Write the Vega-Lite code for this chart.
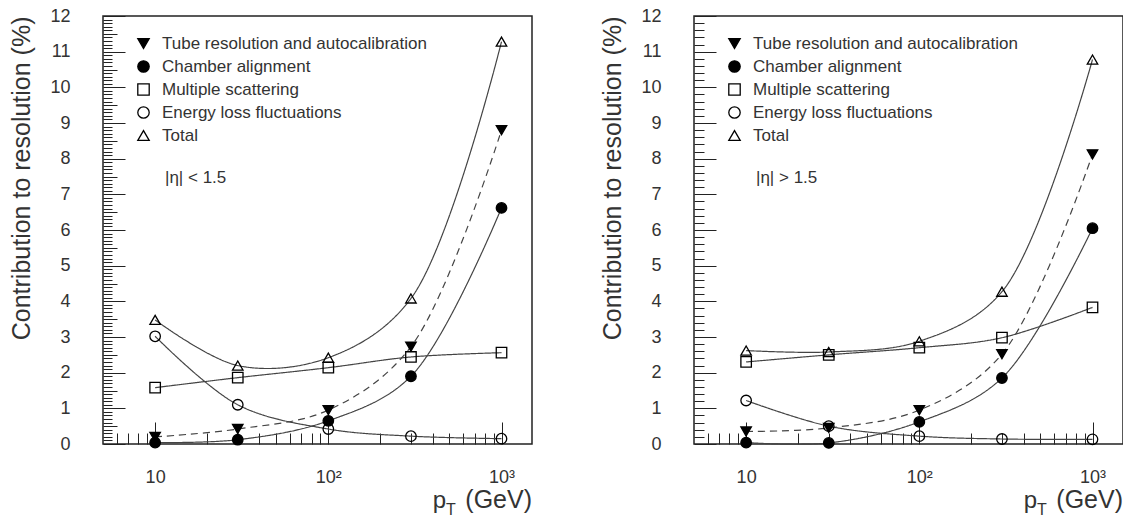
{
  "$schema": "https://vega.github.io/schema/vega-lite/v6.json",
  "background": "white",
  "padding": {"left": 9, "top": 6, "right": 0, "bottom": 0},
  "config": {
    "font": "Liberation Sans",
    "view": {"stroke": "#222", "strokeWidth": 1.5},
    "axis": {"domain": false, "grid": false, "labelColor": "#333", "titleColor": "#333", "tickColor": "#222", "tickWidth": 1, "labelFont": "Liberation Sans", "titleFont": "Liberation Sans", "labelFontSize": 18, "titleFontSize": 25, "titleFontWeight": "normal", "labelOverlap": false},
    "legend": {"labelFont": "Liberation Sans", "labelFontSize": 17, "labelColor": "#333", "labelLimit": 500, "rowPadding": 5, "padding": 0, "labelOffset": 10, "symbolStrokeColor": "black", "symbolStrokeWidth": 1.3, "symbolSize": 130},
    "text": {"font": "Liberation Sans", "color": "#333"}
  },
  "datasets": {
    "central": [
      {"series": "Tube resolution and autocalibration", "pt": 10, "value": 0.2},
      {"series": "Tube resolution and autocalibration", "pt": 30, "value": 0.42},
      {"series": "Tube resolution and autocalibration", "pt": 100, "value": 0.95},
      {"series": "Tube resolution and autocalibration", "pt": 300, "value": 2.73},
      {"series": "Tube resolution and autocalibration", "pt": 1000, "value": 8.8},
      {"series": "Chamber alignment", "pt": 10, "value": 0.04},
      {"series": "Chamber alignment", "pt": 30, "value": 0.12},
      {"series": "Chamber alignment", "pt": 100, "value": 0.65},
      {"series": "Chamber alignment", "pt": 300, "value": 1.9},
      {"series": "Chamber alignment", "pt": 1000, "value": 6.62},
      {"series": "Multiple scattering", "pt": 10, "value": 1.58},
      {"series": "Multiple scattering", "pt": 30, "value": 1.86},
      {"series": "Multiple scattering", "pt": 100, "value": 2.14},
      {"series": "Multiple scattering", "pt": 300, "value": 2.44},
      {"series": "Multiple scattering", "pt": 1000, "value": 2.56},
      {"series": "Energy loss fluctuations", "pt": 10, "value": 3.02},
      {"series": "Energy loss fluctuations", "pt": 30, "value": 1.1},
      {"series": "Energy loss fluctuations", "pt": 100, "value": 0.42},
      {"series": "Energy loss fluctuations", "pt": 300, "value": 0.22},
      {"series": "Energy loss fluctuations", "pt": 1000, "value": 0.15},
      {"series": "Total", "pt": 10, "value": 3.48},
      {"series": "Total", "pt": 30, "value": 2.2},
      {"series": "Total", "pt": 100, "value": 2.42},
      {"series": "Total", "pt": 300, "value": 4.08},
      {"series": "Total", "pt": 1000, "value": 11.28}
    ],
    "forward": [
      {"series": "Tube resolution and autocalibration", "pt": 10, "value": 0.35},
      {"series": "Tube resolution and autocalibration", "pt": 30, "value": 0.45},
      {"series": "Tube resolution and autocalibration", "pt": 100, "value": 0.95},
      {"series": "Tube resolution and autocalibration", "pt": 300, "value": 2.52},
      {"series": "Tube resolution and autocalibration", "pt": 1000, "value": 8.12},
      {"series": "Chamber alignment", "pt": 10, "value": 0.04},
      {"series": "Chamber alignment", "pt": 30, "value": 0.03},
      {"series": "Chamber alignment", "pt": 100, "value": 0.62},
      {"series": "Chamber alignment", "pt": 300, "value": 1.85},
      {"series": "Chamber alignment", "pt": 1000, "value": 6.05},
      {"series": "Multiple scattering", "pt": 10, "value": 2.3},
      {"series": "Multiple scattering", "pt": 30, "value": 2.5},
      {"series": "Multiple scattering", "pt": 100, "value": 2.7},
      {"series": "Multiple scattering", "pt": 300, "value": 2.98},
      {"series": "Multiple scattering", "pt": 1000, "value": 3.83},
      {"series": "Energy loss fluctuations", "pt": 10, "value": 1.22},
      {"series": "Energy loss fluctuations", "pt": 30, "value": 0.5},
      {"series": "Energy loss fluctuations", "pt": 100, "value": 0.22},
      {"series": "Energy loss fluctuations", "pt": 300, "value": 0.14},
      {"series": "Energy loss fluctuations", "pt": 1000, "value": 0.13},
      {"series": "Total", "pt": 10, "value": 2.62},
      {"series": "Total", "pt": 30, "value": 2.58},
      {"series": "Total", "pt": 100, "value": 2.88},
      {"series": "Total", "pt": 300, "value": 4.27},
      {"series": "Total", "pt": 1000, "value": 10.78}
    ]
  },
  "spacing": 162,
  "bounds": "flush",
  "resolve": {"scale": {"shape": "independent", "fill": "independent", "stroke": "independent"}},
  "hconcat": [
    {
      "width": 429,
      "height": 428,
      "data": {"name": "central"},
      "resolve": {"axis": {"x": "independent", "y": "independent"}},
      "layer": [
        {
          "mark": {"type": "line", "interpolate": "catmull-rom", "color": "#444", "strokeWidth": 1.2},
          "encoding": {
            "x": {"field": "pt", "type": "quantitative", "scale": {"type": "log", "domain": [5, 1500], "nice": false},
              "axis": {"orient": "bottom", "title": null, "values": [10, 100, 1000], "tickCount": 50,
                "labelExpr": "datum.value == 10 ? '10' : datum.value == 100 ? '10²' : '10³'",
                "tickSize": -22, "labelPadding": 46}},
            "y": {"field": "value", "type": "quantitative", "scale": {"domain": [0, 12], "nice": false},
              "axis": {"orient": "left", "title": "Contribution to resolution (%)", "titleAnchor": "end", "titlePadding": 15,
                "values": [0,1,2,3,4,5,6,7,8,9,10,11,12], "tickCount": 50, "format": "d",
                "tickSize": -22, "labelPadding": 55}},
            "detail": {"field": "series"},
            "strokeDash": {"field": "series", "type": "nominal", "legend": null,
              "scale": {"domain": ["Tube resolution and autocalibration", "Chamber alignment", "Multiple scattering", "Energy loss fluctuations", "Total"], "range": [[7, 5], [1, 0], [1, 0], [1, 0], [1, 0]]}}
          }
        },
        {
          "mark": {"type": "point", "strokeWidth": 1.3, "size": 110, "opacity": 1},
          "encoding": {
            "x": {"field": "pt", "type": "quantitative",
              "axis": {"orient": "bottom", "title": null, "labels": false, "tickSize": -11, "tickCount": 200,
                "values": [6,7,8,9,20,30,40,50,60,70,80,90,200,300,400,500,600,700,800,900]}},
            "y": {"field": "value", "type": "quantitative",
              "axis": {"orient": "left", "title": null, "labels": false, "tickSize": -9, "tickCount": 500,
                "values": [0.1,0.2,0.3,0.4,0.6,0.7,0.8,0.9,1.1,1.2,1.3,1.4,1.6,1.7,1.8,1.9,2.1,2.2,2.3,2.4,2.6,2.7,2.8,2.9,3.1,3.2,3.3,3.4,3.6,3.7,3.8,3.9,4.1,4.2,4.3,4.4,4.6,4.7,4.8,4.9,5.1,5.2,5.3,5.4,5.6,5.7,5.8,5.9,6.1,6.2,6.3,6.4,6.6,6.7,6.8,6.9,7.1,7.2,7.3,7.4,7.6,7.7,7.8,7.9,8.1,8.2,8.3,8.4,8.6,8.7,8.8,8.9,9.1,9.2,9.3,9.4,9.6,9.7,9.8,9.9,10.1,10.2,10.3,10.4,10.6,10.7,10.8,10.9,11.1,11.2,11.3,11.4,11.6,11.7,11.8,11.9]}},
            "shape": {"field": "series", "type": "nominal",
              "scale": {"domain": ["Tube resolution and autocalibration", "Chamber alignment", "Multiple scattering", "Energy loss fluctuations", "Total"], "range": ["triangle-down", "circle", "square", "circle", "triangle-up"]},
              "legend": {"title": null, "orient": "none", "legendX": 32, "legendY": 19}},
            "fill": {"field": "series", "type": "nominal",
              "scale": {"domain": ["Tube resolution and autocalibration", "Chamber alignment", "Multiple scattering", "Energy loss fluctuations", "Total"], "range": ["black", "black", "transparent", "transparent", "transparent"]},
              "legend": {"title": null, "orient": "none", "legendX": 32, "legendY": 19}},
            "stroke": {"field": "series", "type": "nominal",
              "scale": {"domain": ["Tube resolution and autocalibration", "Chamber alignment", "Multiple scattering", "Energy loss fluctuations", "Total"], "range": ["black", "black", "black", "black", "black"]},
              "legend": {"title": null, "orient": "none", "legendX": 32, "legendY": 19}}
          }
        },
        {
          "data": {"values": [{"label": "|η| < 1.5"}]},
          "mark": {"type": "text", "align": "left", "baseline": "middle", "fontSize": 17},
          "encoding": {
            "x": {"datum": 11.4, "type": "quantitative", "axis": null},
            "y": {"datum": 7.46, "type": "quantitative",
              "axis": {"orient": "left", "title": null, "labels": false, "tickSize": -14, "tickCount": 100,
                "values": [0.5,1.5,2.5,3.5,4.5,5.5,6.5,7.5,8.5,9.5,10.5,11.5]}},
            "text": {"field": "label"}}
        },
        {
          "data": {"values": [{"label": "p"}]},
          "mark": {"type": "text", "align": "left", "baseline": "alphabetic", "fontSize": 24},
          "encoding": {"x": {"datum": 401, "type": "quantitative", "axis": null}, "y": {"datum": -1.8, "type": "quantitative", "axis": null}, "text": {"field": "label"}}
        },
        {
          "data": {"values": [{"label": "T"}]},
          "mark": {"type": "text", "align": "left", "baseline": "alphabetic", "fontSize": 16},
          "encoding": {"x": {"datum": 478, "type": "quantitative", "axis": null}, "y": {"datum": -1.98, "type": "quantitative", "axis": null}, "text": {"field": "label"}}
        },
        {
          "data": {"values": [{"label": "(GeV)"}]},
          "mark": {"type": "text", "align": "right", "baseline": "alphabetic", "fontSize": 25},
          "encoding": {"x": {"datum": 1500, "type": "quantitative", "axis": null}, "y": {"datum": -1.8, "type": "quantitative", "axis": null}, "text": {"field": "label"}}
        }
      ]
    },
    {
      "width": 429,
      "height": 428,
      "data": {"name": "forward"},
      "resolve": {"axis": {"x": "independent", "y": "independent"}},
      "layer": [
        {
          "mark": {"type": "line", "interpolate": "catmull-rom", "color": "#444", "strokeWidth": 1.2},
          "encoding": {
            "x": {"field": "pt", "type": "quantitative", "scale": {"type": "log", "domain": [5, 1500], "nice": false},
              "axis": {"orient": "bottom", "title": null, "values": [10, 100, 1000], "tickCount": 50,
                "labelExpr": "datum.value == 10 ? '10' : datum.value == 100 ? '10²' : '10³'",
                "tickSize": -22, "labelPadding": 46}},
            "y": {"field": "value", "type": "quantitative", "scale": {"domain": [0, 12], "nice": false},
              "axis": {"orient": "left", "title": "Contribution to resolution (%)", "titleAnchor": "end", "titlePadding": 15,
                "values": [0,1,2,3,4,5,6,7,8,9,10,11,12], "tickCount": 50, "format": "d",
                "tickSize": -22, "labelPadding": 55}},
            "detail": {"field": "series"},
            "strokeDash": {"field": "series", "type": "nominal", "legend": null,
              "scale": {"domain": ["Tube resolution and autocalibration", "Chamber alignment", "Multiple scattering", "Energy loss fluctuations", "Total"], "range": [[7, 5], [1, 0], [1, 0], [1, 0], [1, 0]]}}
          }
        },
        {
          "mark": {"type": "point", "strokeWidth": 1.3, "size": 110, "opacity": 1},
          "encoding": {
            "x": {"field": "pt", "type": "quantitative",
              "axis": {"orient": "bottom", "title": null, "labels": false, "tickSize": -11, "tickCount": 200,
                "values": [6,7,8,9,20,30,40,50,60,70,80,90,200,300,400,500,600,700,800,900]}},
            "y": {"field": "value", "type": "quantitative",
              "axis": {"orient": "left", "title": null, "labels": false, "tickSize": -10, "tickCount": 500,
                "values": [0.2,0.4,0.6,0.8,1.2,1.4,1.6,1.8,2.2,2.4,2.6,2.8,3.2,3.4,3.6,3.8,4.2,4.4,4.6,4.8,5.2,5.4,5.6,5.8,6.2,6.4,6.6,6.8,7.2,7.4,7.6,7.8,8.2,8.4,8.6,8.8,9.2,9.4,9.6,9.8,10.2,10.4,10.6,10.8,11.2,11.4,11.6,11.8]}},
            "shape": {"field": "series", "type": "nominal",
              "scale": {"domain": ["Tube resolution and autocalibration", "Chamber alignment", "Multiple scattering", "Energy loss fluctuations", "Total"], "range": ["triangle-down", "circle", "square", "circle", "triangle-up"]},
              "legend": {"title": null, "orient": "none", "legendX": 32, "legendY": 19}},
            "fill": {"field": "series", "type": "nominal",
              "scale": {"domain": ["Tube resolution and autocalibration", "Chamber alignment", "Multiple scattering", "Energy loss fluctuations", "Total"], "range": ["black", "black", "transparent", "transparent", "transparent"]},
              "legend": {"title": null, "orient": "none", "legendX": 32, "legendY": 19}},
            "stroke": {"field": "series", "type": "nominal",
              "scale": {"domain": ["Tube resolution and autocalibration", "Chamber alignment", "Multiple scattering", "Energy loss fluctuations", "Total"], "range": ["black", "black", "black", "black", "black"]},
              "legend": {"title": null, "orient": "none", "legendX": 32, "legendY": 19}}
          }
        },
        {
          "data": {"values": [{"label": "|η| > 1.5"}]},
          "mark": {"type": "text", "align": "left", "baseline": "middle", "fontSize": 17},
          "encoding": {"x": {"datum": 11.4, "type": "quantitative", "axis": null}, "y": {"datum": 7.46, "type": "quantitative", "axis": null}, "text": {"field": "label"}}
        },
        {
          "data": {"values": [{"label": "p"}]},
          "mark": {"type": "text", "align": "left", "baseline": "alphabetic", "fontSize": 24},
          "encoding": {"x": {"datum": 401, "type": "quantitative", "axis": null}, "y": {"datum": -1.8, "type": "quantitative", "axis": null}, "text": {"field": "label"}}
        },
        {
          "data": {"values": [{"label": "T"}]},
          "mark": {"type": "text", "align": "left", "baseline": "alphabetic", "fontSize": 16},
          "encoding": {"x": {"datum": 478, "type": "quantitative", "axis": null}, "y": {"datum": -1.98, "type": "quantitative", "axis": null}, "text": {"field": "label"}}
        },
        {
          "data": {"values": [{"label": "(GeV)"}]},
          "mark": {"type": "text", "align": "right", "baseline": "alphabetic", "fontSize": 25},
          "encoding": {"x": {"datum": 1500, "type": "quantitative", "axis": null}, "y": {"datum": -1.8, "type": "quantitative", "axis": null}, "text": {"field": "label"}}
        }
      ]
    }
  ]
}
